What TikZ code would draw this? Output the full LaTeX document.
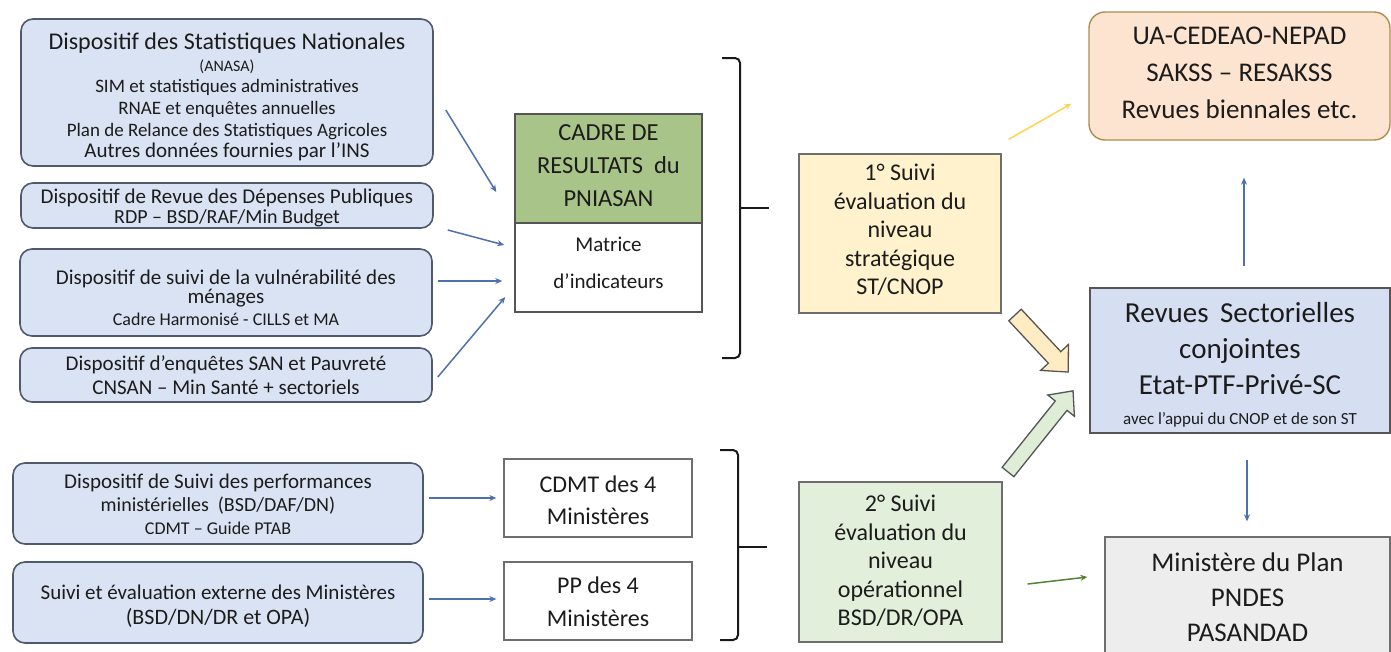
\documentclass[tikz,border=0pt]{standalone}
\usepackage{fontspec}
\setmainfont{Carlito}
\usetikzlibrary{arrows.meta}
\definecolor{lblue}{RGB}{218,227,243}
\definecolor{lbord}{RGB}{80,90,110}
\definecolor{cgreen}{RGB}{169,196,137}
\definecolor{syel}{RGB}{255,242,204}
\definecolor{sgrn}{RGB}{226,239,218}
\definecolor{uafill}{RGB}{252,228,208}
\definecolor{uabord}{RGB}{175,140,80}
\definecolor{revfill}{RGB}{213,223,241}
\definecolor{gbord}{RGB}{110,110,110}
\definecolor{dbord}{RGB}{85,85,85}
\definecolor{minfill}{RGB}{237,237,237}
\definecolor{txtc}{RGB}{28,28,28}
\definecolor{arrb}{RGB}{79,112,175}
\definecolor{arry}{RGB}{255,212,80}
\definecolor{arrg}{RGB}{84,130,53}
\definecolor{hy}{RGB}{255,236,194}
\definecolor{hg}{RGB}{223,236,214}
\newcommand\fsz[2]{\fontsize{#1}{#2}\selectfont}
\begin{document}
\lineskiplimit=-100pt\relax
\begin{tikzpicture}[x=1pt,y=-1pt,
  lbox/.style={draw=lbord,fill=lblue,rounded corners=12,line width=1.6,inner sep=0},
  sqbox/.style={draw=gbord,line width=1.3,inner sep=0},
  txt/.style={align=center,text=txtc,inner sep=0},
  thinarr/.style={line width=1.5,-{Stealth[length=7,width=6]}},
  brk/.style={line width=2,draw=black!90,rounded corners=5},
  hollow/.style={draw=dbord,line width=1.3,line join=miter}]
\useasboundingbox[fill=white] (0,0) rectangle (1391,651);

% left column
\node[lbox,minimum width=412,minimum height=147] (b1) at (227,92.5) {};
\node[txt,font=\fsz{19}{21.6}] (b1t) at (227,97) {{\fsz{24}{21.6}Dispositif des Statistiques Nationales}\\{\fsz{16}{21.6}(ANASA)}\\SIM et statistiques administratives\\RNAE et enquêtes annuelles\\Plan de Relance des Statistiques Agricoles\\{\fsz{21}{21.6}Autres données fournies par l’INS}};

\node[lbox,minimum width=412,minimum height=45] (b2) at (227,205.5) {};
\node[txt,font=\fsz{21}{20}] (b2t) at (227,208) {Dispositif de Revue des Dépenses Publiques\\{\fsz{20}{20}RDP – BSD/RAF/Min Budget}};

\node[lbox,minimum width=412,minimum height=87] (b3) at (226,292.5) {};
\node[txt,font=\fsz{21}{19}] (b3t) at (226,298) {Dispositif de suivi de la vulnérabilité des\\ménages\\[3.5]{\fsz{18}{19}Cadre Harmonisé - CILLS et MA}};

\node[lbox,minimum width=412,minimum height=54] (b4) at (226,375) {};
\node[txt,font=\fsz{21}{24}] (b4t) at (226,375.5) {Dispositif d’enquêtes SAN et Pauvreté\\CNSAN – Min Santé + sectoriels};

\node[lbox,minimum width=410,minimum height=81] (b5) at (218,503.5) {};
\node[txt,font=\fsz{20}{23}] (b5t) at (218,504) {{\fsz{21}{23}Dispositif de Suivi des performances}\\ministérielles\ \ (BSD/DAF/DN)\\{\fsz{18}{23}CDMT – Guide PTAB}};

\node[lbox,minimum width=410,minimum height=81] (b6) at (218,602.5) {};
\node[txt,font=\fsz{21}{25}] (b6t) at (218,605.8) {Suivi et évaluation externe des Ministères\\{\fsz{22}{25}(BSD/DN/DR et OPA)}};

% cadre de resultats
\node[sqbox,draw=dbord,line width=1.5,fill=cgreen,minimum width=187,minimum height=109] (cadreT) at (608.5,168.5) {};
\node[txt,font=\fsz{24.5}{33}] (cadreTt) at (608.5,166) {CADRE DE\\RESULTATS\ \ du\\PNIASAN};
\node[sqbox,draw=dbord,line width=1.5,fill=white,minimum width=187,minimum height=89] (cadreB) at (608.5,267.5) {};
\node[txt,font=\fsz{21}{37}] (cadreBt) at (608.5,262.5) {Matrice\\d’indicateurs};

% CDMT / PP
\node[sqbox,fill=white,minimum width=188,minimum height=78] (cdmt) at (598,498) {};
\node[txt,font=\fsz{24}{32}] (cdmtt) at (598,500) {CDMT des 4\\Ministères};
\node[sqbox,fill=white,minimum width=188,minimum height=78] (pp) at (598,601) {};
\node[txt,font=\fsz{24}{33}] (ppt) at (598,602) {PP des 4\\Ministères};

% suivi boxes
\node[sqbox,fill=syel,minimum width=202,minimum height=159] (s1) at (900,233.5) {};
\node[txt,font=\fsz{24}{28.5}] (s1t) at (900,230) {1° Suivi\\évaluation du\\niveau\\stratégique\\ST/CNOP};
\node[sqbox,fill=sgrn,minimum width=203,minimum height=160] (s2) at (900.5,562) {};
\node[txt,font=\fsz{24}{28.5}] (s2t) at (900.5,561) {2° Suivi\\évaluation du\\niveau\\opérationnel\\BSD/DR/OPA};

% right column
\node[draw=uabord,fill=uafill,line width=1.4,rounded corners=16,inner sep=0,minimum width=301,minimum height=128] (ua) at (1239.5,76) {};
\node[txt,font=\fsz{27}{37}] (uat) at (1239.5,73) {UA-CEDEAO-NEPAD\\SAKSS – RESAKSS\\Revues biennales etc.};

\node[draw=dbord,fill=revfill,line width=2.5,inner sep=0,minimum width=300,minimum height=145] (rev) at (1240,360.5) {};
\node[txt,font=\fsz{29}{36}] (revt) at (1240,365) {Revues\ \,Sectorielles\\conjointes\\Etat-PTF-Privé-SC\\[-6]{\fsz{17}{36}avec l’appui du CNOP et de son ST}};

\node[sqbox,fill=minfill,minimum width=285,minimum height=143] (min) at (1247.5,608.5) {};
\node[txt,font=\fsz{27}{35}] (mint) at (1247.5,597) {Ministère du Plan\\PNDES\\PASANDAD};

% brackets
\draw[brk] (722,58) -- (740,58) -- (740,358) -- (722,358);
\draw[line width=2,draw=black!90] (740,208) -- (769,208);
\draw[brk] (720,450) -- (738,450) -- (738,640) -- (720,640);
\draw[line width=2,draw=black!90] (738,547) -- (767,547);

% thin arrows
\draw[thinarr,draw=arrb] ([shift={(12,17.5)}]b1.east) -- ([shift={(-18,23.5)}]cadreT.west);
\draw[thinarr,draw=arrb] ([shift={(14,24.5)}]b2.east) -- ([shift={(-10,-22.5)}]cadreB.west);
\draw[thinarr,draw=arrb] ([shift={(5,-11.5)}]b3.east) -- ([shift={(-12,13.5)}]cadreB.west);
\draw[thinarr,draw=arrb] ([shift={(5,2)}]b4.east) -- ([shift={(-9,29.5)}]cadreB.west);
\draw[thinarr,draw=arrb] ([shift={(5,-5.5)}]b5.east) -- ([shift={(-7,0)}]cdmt.west);
\draw[thinarr,draw=arrb] ([shift={(5,-3.5)}]b6.east) -- ([shift={(-7,-2)}]pp.west);
\draw[thinarr,draw=arry] ([shift={(7,-14)}]s1.north east) -- ([shift={(-17,-37)}]ua.south west);
\draw[thinarr,draw=arrb] ([shift={(4,-21)}]rev.north) -- ([shift={(4.5,37)}]ua.south);
\draw[thinarr,draw=arrb] ([shift={(7,26)}]rev.south) -- ([shift={(-0.5,-15)}]min.north);
\draw[thinarr,draw=arrg] ([shift={(25,22)}]s2.east) -- ([shift={(-17,-31.5)}]min.west);

% hollow block arrows
\begin{scope}[shift={(1015,315)},rotate=-47]
\draw[hollow,fill=hy] (0,-8.5) -- (58,-8.5) -- (58,-19) -- (78,0) -- (58,19) -- (58,8.5) -- (0,8.5) -- cycle;
\end{scope}
\begin{scope}[shift={(1008,472)},rotate=51.3]
\draw[hollow,fill=hg] (0,-7.5) -- (85,-7.5) -- (85,-17) -- (104,0) -- (85,17) -- (85,7.5) -- (0,7.5) -- cycle;
\end{scope}
\end{tikzpicture}
\end{document}
